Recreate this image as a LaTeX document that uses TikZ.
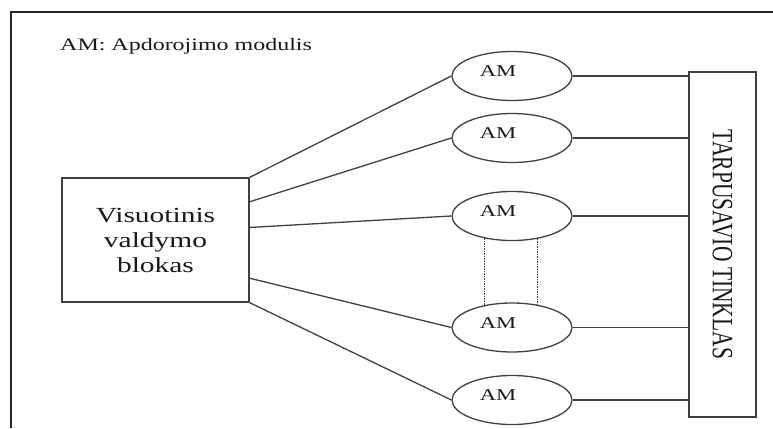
\documentclass[tikz,border=0pt]{standalone}
\usepackage{fontspec}
\usepackage{graphicx}
\setmainfont{Liberation Serif}
\newfontfamily\widefont{Liberation Serif}[FakeStretch=1.37]
\usetikzlibrary{shapes.geometric,calc}

\begin{document}
\begin{tikzpicture}[x=1pt,y=-1pt,
  line/.style={draw=black!75, line width=1.3pt},
  frame/.style={draw=black!85, line width=2pt},
  block/.style={line, rectangle, inner sep=0pt},
  am/.style={line, ellipse, minimum width=120pt, minimum height=49pt, inner sep=0pt},
  amlab/.style={font=\widefont\fontsize{16.5}{19}\selectfont, text=black!90,
                inner sep=0pt, xshift=-14pt, yshift=4.5pt},
  link/.style={line},
  gap/.style={draw=black!75, line width=1.5pt, densely dotted}]

  \useasboundingbox (0,0) rectangle (773,428);

  % outer frame (top and left edges)
  \coordinate (fr) at (773,12);
  \coordinate (fc) at (11,12);
  \coordinate (fb) at (11,428);
  \draw[frame] (fr) -- (fc) -- (fb);

  % legend
  \node[anchor=base west, inner sep=0pt, text=black!90,
        font=\widefont\fontsize{17.5}{20}\selectfont] (legend) at (60,51)
        {AM: Apdorojimo modulis};

  % global control block
  \node[block, minimum width=187pt, minimum height=124pt, align=center,
        text=black!90, font=\widefont\fontsize{21.5}{25}\selectfont]
        (vb) at (155.5,240) {Visuotinis\\valdymo\\blokas};

  % interconnection network
  \node[block, minimum width=67pt, minimum height=345pt,
        label={[rotate=-90, inner sep=0pt, text=black!90]center:%
          \scalebox{1}[1.37]{\fontsize{21.5}{25}\selectfont TARPUSAVIO TINKLAS}}]
        (tt) at (722.5,244.5) {};

  % processing modules
  \node[am, label={[amlab]center:AM}] (am1) at (512,76) {};
  \node[am, label={[amlab]center:AM}] (am2) at (512,138) {};
  \node[am, label={[amlab]center:AM}] (am3) at (512,216) {};
  \node[am, label={[amlab]center:AM}] (am4) at (512,327.5) {};
  \node[am, label={[amlab]center:AM}] (am5) at (512,400) {};

  % control block to modules
  \draw[link] (vb.north east) -- (am1.west);
  \draw[link] ($(vb.north east)!0.195!(vb.south east)$) -- (am2.west);
  \draw[link] ($(vb.north east)!0.40!(vb.south east)$) -- (am3.west);
  \draw[link] ($(vb.north east)!0.805!(vb.south east)$) -- (am4.west);
  \draw[link] (vb.south east) -- (am5.west);

  % modules to network
  \foreach \m in {am1,am2,am3,am4,am5}
    \draw[link] (\m.east) -- (\m.east -| tt.west);

  % omitted modules
  \draw[gap] (am3.219) -- (am4.141);
  \draw[gap] (am3.318) -- (am4.42);
\end{tikzpicture}
\end{document}
